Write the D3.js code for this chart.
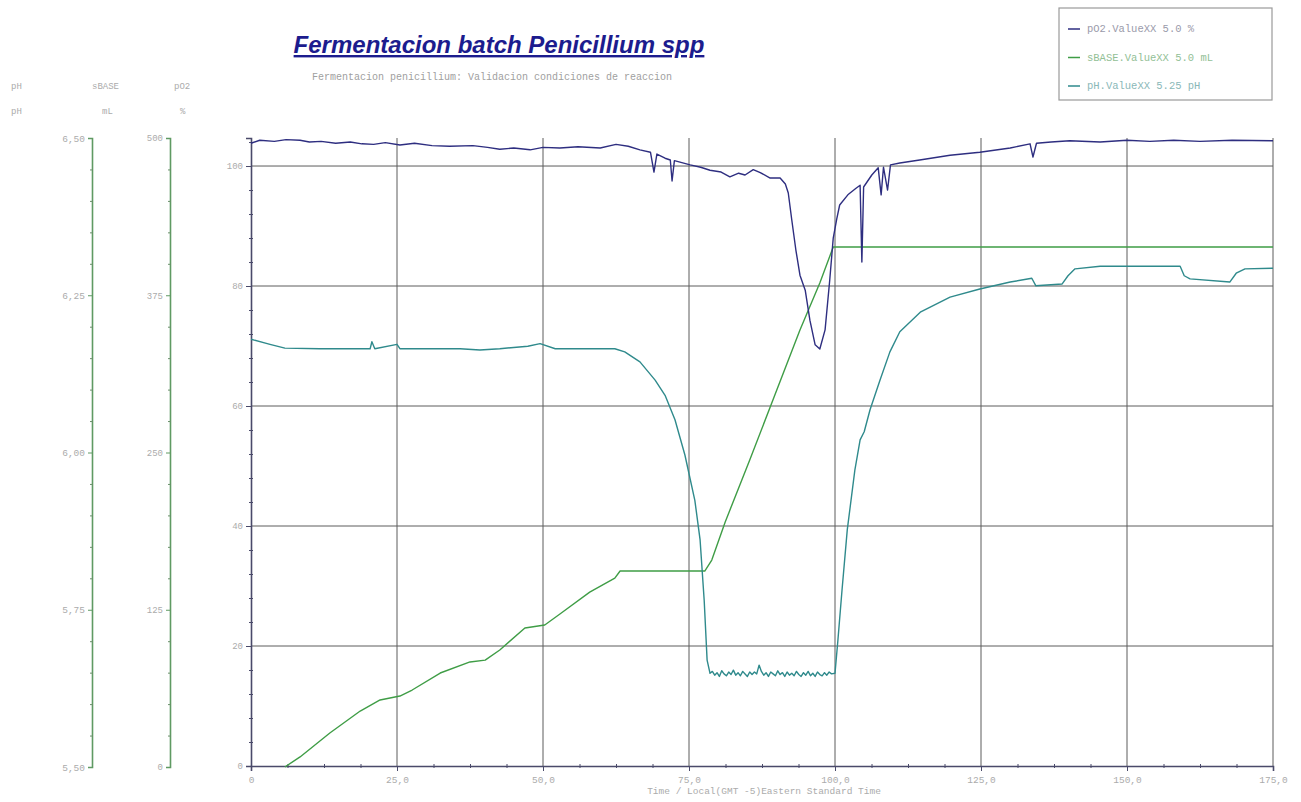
<!DOCTYPE html>
<html>
<head>
<meta charset="utf-8">
<script src="https://cdn.jsdelivr.net/npm/d3@7/dist/d3.min.js"></script>
<style>
  html, body { margin: 0; padding: 0; background: #fff; }
  svg { display: block; }
  .mono { font-family: "Liberation Mono", "DejaVu Sans Mono", monospace; }
</style>
</head>
<body>
<svg id="chart" width="1301" height="802"></svg>
<script>
// ---- Data: hours of fermentation and measured signals ----
const timeTicks = [0, 25, 50, 75, 100, 125, 150, 175];
const timeTickLabels = ["0", "25,0", "50,0", "75,0", "100,0", "125,0", "150,0", "175,0"];

const po2Ticks = [0, 20, 40, 60, 80, 100];
const phTicks = [5.5, 5.75, 6.0, 6.25, 6.5];
const phTickLabels = ["5,50", "5,75", "6,00", "6,25", "6,50"];
const baseTicks = [0, 125, 250, 375, 500];

// dissolved oxygen, %
const po2Time = [0, 1.5, 4, 6, 8.4, 10, 12, 14.5, 17, 19, 21, 23, 25.5, 28, 31, 34, 38, 40.5, 42.6, 45, 47.8, 50, 52.9, 56, 59.8, 62.5, 64.6, 66.6,
  68.4, 69.0, 69.5, 70.9, 71.8, 72.1, 72.5, 75.2, 77, 78.6, 80.5, 82, 83.5, 84.6, 86, 87.2, 88.9, 90.6, 91.5, 92,
  92.6, 93.3, 94, 94.9, 95.7, 96.6, 97.4, 98.3, 99.1, 99.7, 100.3, 100.8, 102.2, 103.6, 104.3, 104.6, 104.9, 106.3, 107.4, 107.9,
  108.3, 109, 109.5, 111.1, 114.5, 119.7, 124.8, 130, 133.4, 133.9, 134.5, 137, 140.2, 145.4, 150, 153.9, 158, 162.5, 168, 175];
const po2Values = [103.8, 104.3, 104.1, 104.4, 104.3, 104.0, 104.1, 103.8, 104.0, 103.7, 103.6, 103.9, 103.5, 103.8, 103.4, 103.3, 103.4, 103.1, 102.8, 103.0, 102.7, 103.1, 103.0, 103.2, 103.0, 103.6, 103.3, 102.7,
  102.3, 99.0, 102.0, 101.3, 101.0, 97.5, 100.9, 100.2, 99.8, 99.3, 99.0, 98.2, 98.8, 98.5, 99.4, 98.9, 98.0, 98.0, 97.0, 95.5,
  91.0, 86.0, 81.8, 79.3, 74.3, 70.2, 69.5, 72.7, 81.0, 88.0, 91.2, 93.5, 95.2, 96.3, 96.8, 84.0, 96.5, 98.5, 99.7, 95.2,
  99.8, 96.0, 100.2, 100.5, 101.0, 101.8, 102.3, 103.0, 103.7, 101.5, 103.8, 104.0, 104.2, 104.0, 104.3, 104.1, 104.3, 104.1, 104.3, 104.2];

// base added, mL
const baseTime = [5.8, 8.4, 13.5, 18.7, 22.1, 25.5, 27.6, 32.4, 37.5, 40.1, 42.6, 46.9, 50.3, 52.9, 58.0, 62.3, 63.2, 77.7, 78.9, 81.2,
  85.4, 89.7, 94.0, 97.4, 99.7, 175];
const baseValues = [0, 8, 27, 44.5, 53.3, 56.4, 61.2, 74.7, 83.5, 85, 93, 110.5, 112.9, 121.6, 139, 150.2, 155.8, 155.8, 164.5, 194.8,
  244, 295.7, 347.4, 384.7, 413.4, 413.4];

// broth pH
const phTime = [0, 3.25, 5.8, 11.8, 20.4, 20.7, 21.2, 25.0, 25.5, 35.8, 39.2, 42.6, 47.4, 49.5, 52.1, 62.3, 64.0, 66.6, 69.2, 70.9,
  72.6, 74.3, 76.0, 76.9, 77.6, 78.1, 78.6,
  79.0, 79.4, 79.8, 80.2, 80.6, 81.0, 81.4, 81.8, 82.2, 82.6, 83.0, 83.4, 83.8, 84.2, 84.6, 85.0, 85.4, 85.8, 86.2, 86.6,
  87.0, 87.4, 87.8, 88.2, 88.6, 89.0, 89.4, 89.8, 90.2, 90.6, 91.0, 91.4, 91.8, 92.2, 92.6, 93.0, 93.4, 93.8, 94.2, 94.6,
  95.0, 95.4, 95.8, 96.2, 96.6, 97.0, 97.4, 97.8, 98.2, 98.6, 99.0, 99.4,
  100.0, 100.5, 101.2, 102.1, 103.4,
  104.3, 105.0, 106.0, 107.7, 109.4, 111.1, 114.6, 119.7, 124.8, 130.0, 133.7, 134.4, 138.9, 139.9, 141.1, 145.4, 159.1, 159.8, 160.8, 167.6,
  168.7, 170.2, 175];
const phValues = [6.180, 6.172, 6.166, 6.165, 6.165, 6.176, 6.165, 6.172, 6.165, 6.165, 6.163, 6.165, 6.169, 6.173, 6.165, 6.165, 6.160, 6.144, 6.115, 6.091,
  6.052, 5.996, 5.924, 5.861, 5.765, 5.670, 5.649,
  5.652, 5.646, 5.650, 5.644, 5.653, 5.648, 5.645, 5.651, 5.647, 5.654, 5.646, 5.650, 5.645, 5.652, 5.648, 5.644, 5.651, 5.647, 5.651, 5.648,
  5.662, 5.652, 5.646, 5.650, 5.644, 5.651, 5.648, 5.645, 5.653, 5.647, 5.650, 5.644, 5.651, 5.646, 5.649, 5.645, 5.652, 5.647, 5.644, 5.650,
  5.646, 5.652, 5.645, 5.649, 5.644, 5.651, 5.647, 5.645, 5.650, 5.646, 5.651, 5.648,
  5.649, 5.702, 5.781, 5.877, 5.972,
  6.020, 6.033, 6.068, 6.115, 6.160, 6.192, 6.223, 6.247, 6.260, 6.271, 6.277, 6.265, 6.268, 6.281, 6.292, 6.296, 6.296, 6.281, 6.276, 6.271,
  6.285, 6.292, 6.293];

const seriesColors = { po2: "#2e2e80", base: "#3f9d46", ph: "#2f8a8c" };
const legendLabels = ["pO2.ValueXX 5.0 %", "sBASE.ValueXX 5.0 mL", "pH.ValueXX 5.25 pH"];

// ---- Layout ----
const svg = d3.select("#chart");
const plotLeft = 251, plotRight = 1273, plotTop = 138, plotBottom = 766;
const textGray = "#ababab";

const x = d3.scaleLinear().domain([0, 175]).range([plotLeft, plotRight]);
const yPo2 = d3.scaleLinear().domain([0, 104.67]).range([plotBottom, plotTop]);
const yPh = d3.scaleLinear().domain([5.5, 6.5]).range([plotBottom + 1, plotTop]);
const yBase = d3.scaleLinear().domain([0, 500]).range([plotBottom + 1, plotTop]);

function monoText(px, py, str, size, color) {
  return svg.append("text").attr("class", "mono")
    .attr("x", px).attr("y", py)
    .style("font-size", size + "px")
    .attr("fill", color || textGray)
    .text(str);
}

// ---- Titles ----
svg.append("text")
  .attr("x", 499).attr("y", 53)
  .attr("text-anchor", "middle")
  .attr("font-family", "Liberation Sans, Arial, sans-serif")
  .attr("font-size", 24).attr("font-weight", "bold").attr("font-style", "italic")
  .attr("text-decoration", "underline")
  .attr("fill", "#1c1c8e")
  .text("Fermentacion batch Penicillium spp");

monoText(312, 80, "Fermentacion penicillium: Validacion condiciones de reaccion", 10, "#a0a0a0");

// ---- Grid ----
const grid = svg.append("g").attr("stroke", "#5c5c5c").attr("stroke-width", 1);
grid.selectAll("line.v").data(timeTicks.slice(1)).join("line")
  .attr("x1", d => x(d)).attr("x2", d => x(d))
  .attr("y1", plotTop).attr("y2", plotBottom);
grid.selectAll("line.h").data(po2Ticks.slice(1)).join("line")
  .attr("x1", plotLeft).attr("x2", plotRight)
  .attr("y1", d => yPo2(d)).attr("y2", d => yPo2(d));

// ---- Axes ----
function minorValues(scale, step) {
  const [a, b] = scale.domain();
  const out = [];
  for (let v = a; v <= b + 1e-9; v += step) out.push(+v.toFixed(6));
  return out;
}

function styleAxis(g, lineColor, size) {
  g.select(".domain").attr("stroke", lineColor).attr("stroke-width", 1.6);
  g.selectAll(".tick line").attr("stroke", lineColor);
  g.selectAll(".tick text")
    .attr("font-family", "Liberation Mono, DejaVu Sans Mono, monospace")
    .attr("font-size", size).attr("fill", textGray);
}

// pO2 axis at plot left
const po2Axis = svg.append("g").attr("transform", `translate(${plotLeft},0)`)
  .call(d3.axisLeft(yPo2).tickValues(po2Ticks).tickSize(5).tickFormat(d3.format("d")));
styleAxis(po2Axis, "#4a4a6a", 9);
svg.append("g").attr("transform", `translate(${plotLeft + 2},0)`)
  .call(d3.axisLeft(yPo2).tickValues(minorValues(yPo2, 4).filter(v => v % 20 !== 0)).tickSize(4).tickFormat(""))
  .call(g => { g.select(".domain").remove(); g.selectAll(".tick line").attr("stroke", "#4a4a6a"); });

// time axis
const xAxis = svg.append("g").attr("transform", `translate(0,${plotBottom})`)
  .call(d3.axisBottom(x).tickValues(timeTicks).tickSize(5).tickFormat((d, i) => timeTickLabels[i]));
styleAxis(xAxis, "#4a4a6a", 9.5);
xAxis.selectAll(".tick text").attr("dy", "0.9em");
svg.append("g").attr("transform", `translate(0,${plotBottom - 2})`)
  .call(d3.axisBottom(x).tickValues(minorValues(x, 6.25).filter(v => v % 25 !== 0)).tickSize(4).tickFormat(""))
  .call(g => { g.select(".domain").remove(); g.selectAll(".tick line").attr("stroke", "#4a4a6a"); });

monoText(764, 794, "Time / Local(GMT -5)Eastern Standard Time", 9.5).attr("text-anchor", "middle");

// pH axis
const phAxis = svg.append("g").attr("transform", "translate(92,0)")
  .call(d3.axisLeft(yPh).tickValues(phTicks).tickSize(4).tickFormat((d, i) => phTickLabels[i]));
styleAxis(phAxis, "#5f9a63", 9.5);
svg.append("g").attr("transform", "translate(93,0)")
  .call(d3.axisLeft(yPh).tickValues(minorValues(yPh, 0.05).filter((v, i) => i % 5 !== 0)).tickSize(3).tickFormat(""))
  .call(g => { g.select(".domain").remove(); g.selectAll(".tick line").attr("stroke", "#6a8f6a"); });

// base axis
const baseAxis = svg.append("g").attr("transform", "translate(170,0)")
  .call(d3.axisLeft(yBase).tickValues(baseTicks).tickSize(4).tickFormat(d3.format("d")));
styleAxis(baseAxis, "#5f9a63", 9);
svg.append("g").attr("transform", "translate(171,0)")
  .call(d3.axisLeft(yBase).tickValues(minorValues(yBase, 25).filter((v, i) => i % 5 !== 0)).tickSize(3).tickFormat(""))
  .call(g => { g.select(".domain").remove(); g.selectAll(".tick line").attr("stroke", "#6a8f6a"); });

// axis headers
const headers = [
  { x: 11, name: "pH", unit: "pH", ux: 11 },
  { x: 92, name: "sBASE", unit: "mL", ux: 102 },
  { x: 174, name: "pO2", unit: "%", ux: 180 }
];
headers.forEach(h => {
  monoText(h.x, 89, h.name, 9);
  monoText(h.ux, 114, h.unit, 9);
});

// ---- Series ----
function drawSeries(times, values, yScale, color, width) {
  const pts = times.map((t, i) => [t, values[i]]);
  svg.append("path")
    .datum(pts)
    .attr("fill", "none")
    .attr("stroke", color)
    .attr("stroke-width", width)
    .attr("stroke-linejoin", "round")
    .attr("d", d3.line().x(d => x(d[0])).y(d => yScale(d[1])));
}
drawSeries(baseTime, baseValues, yBase, seriesColors.base, 1.4);
drawSeries(phTime, phValues, yPh, seriesColors.ph, 1.4);
drawSeries(po2Time, po2Values, yPo2, seriesColors.po2, 1.4);

// ---- Legend ----
const legend = svg.append("g");
legend.append("rect")
  .attr("x", 1059).attr("y", 8).attr("width", 213).attr("height", 92)
  .attr("fill", "#fff").attr("stroke", "#9a9a9a").attr("stroke-width", 1.2);
const legendColors = [seriesColors.po2, seriesColors.base, seriesColors.ph];
const legendTextColors = ["#9a9aaa", "#92c096", "#8ab8b8"];
legendLabels.forEach((lab, i) => {
  const yy = 32 + i * 28.5;
  legend.append("line")
    .attr("x1", 1068).attr("x2", 1080).attr("y1", yy - 3).attr("y2", yy - 3)
    .attr("stroke", legendColors[i]).attr("stroke-width", 1.5);
  monoText(1087, yy, lab, 10.5, legendTextColors[i]);
});
</script>
</body>
</html>
